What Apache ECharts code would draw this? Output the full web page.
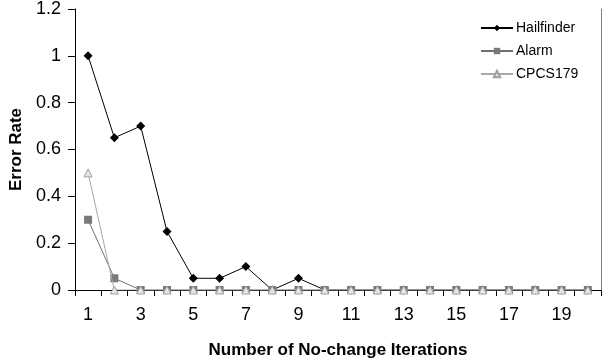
<!DOCTYPE html>
<html>
<head>
<meta charset="utf-8">
<script src="https://cdn.jsdelivr.net/npm/echarts@6/dist/echarts.min.js"></script>
<style>html,body{margin:0;padding:0;background:#fff}#c{width:608px;height:364px}</style>
</head>
<body>
<div id="c"></div>
<script>
const categories = ['1','2','3','4','5','6','7','8','9','10','11','12','13','14','15','16','17','18','19','20'];
const hailfinder = [1, 0.65, 0.7, 0.25, 0.05, 0.05, 0.1, 0, 0.05, 0, 0, 0, 0, 0, 0, 0, 0, 0, 0, 0];
const alarm = [0.3, 0.05, 0, 0, 0, 0, 0, 0, 0, 0, 0, 0, 0, 0, 0, 0, 0, 0, 0, 0];
const cpcs179 = [0.5, 0, 0, 0, 0, 0, 0, 0, 0, 0, 0, 0, 0, 0, 0, 0, 0, 0, 0, 0];
const yTicks = {min: 0, max: 1.2, interval: 0.2};

const font = 'Liberation Sans, Arial, sans-serif';
const chart = echarts.init(document.getElementById('c'), null, {renderer: 'canvas'});
chart.setOption({
  animation: false,
  backgroundColor: '#fff',
  textStyle: {fontFamily: font},
  grid: {left: 72, right: 7, top: 6, bottom: 73, containLabel: false},
  legend: {
    orient: 'vertical', left: 475, top: 16,
    itemWidth: 32, itemHeight: 8, itemGap: 9,
    textStyle: {fontFamily: font, fontSize: 14, color: '#000', padding: [0,0,0,-2]},
    data: ['Hailfinder', 'Alarm', 'CPCS179']
  },
  xAxis: {
    type: 'category', data: categories, boundaryGap: true,
    name: 'Number of No-change Iterations', nameLocation: 'middle', nameGap: 52,
    nameTextStyle: {fontFamily: font, fontSize: 17, fontWeight: 'bold', color: '#000'},
    axisLine: {lineStyle: {color: '#000', width: 1}},
    axisTick: {show: true, interval: 0, length: 6, lineStyle: {color: '#000'}},
    axisLabel: {interval: 1, fontSize: 18, color: '#000', margin: 16, fontFamily: font},
    splitLine: {show: false}
  },
  yAxis: [{
    type: 'value', min: yTicks.min, max: yTicks.max, interval: yTicks.interval,
    name: 'Error Rate', nameLocation: 'middle', nameGap: 49, nameRotate: 90,
    nameTextStyle: {fontFamily: font, fontSize: 17, fontWeight: 'bold', color: '#000'},
    axisLine: {show: true, lineStyle: {color: '#000', width: 1}},
    axisTick: {show: true, length: 7, lineStyle: {color: '#000'}},
    axisLabel: {fontSize: 18, color: '#000', margin: 14, fontFamily: font},
    splitLine: {show: false}
  }, {
    type: 'value', position: 'right', min: yTicks.min, max: yTicks.max, interval: yTicks.interval,
    axisLine: {show: true, lineStyle: {color: '#808080', width: 1}},
    axisTick: {show: false}, axisLabel: {show: false}, splitLine: {show: false}
  }],
  series: [{
    name: 'Hailfinder', type: 'line', data: hailfinder,
    symbol: 'diamond', symbolSize: 9,
    lineStyle: {color: '#000', width: 1},
    itemStyle: {color: '#000'}, z: 2
  }, {
    name: 'Alarm', type: 'line', data: alarm,
    symbol: 'rect', symbolSize: 8,
    lineStyle: {color: '#707070', width: 1},
    itemStyle: {color: '#7a7a7a'}, z: 3
  }, {
    name: 'CPCS179', type: 'line', data: cpcs179,
    symbol: 'triangle', symbolSize: 8,
    lineStyle: {color: '#a8a8a8', width: 1},
    itemStyle: {color: '#e6e6e6', borderColor: '#a0a0a0', borderWidth: 1}, z: 4
  }]
});
</script>
</body>
</html>
